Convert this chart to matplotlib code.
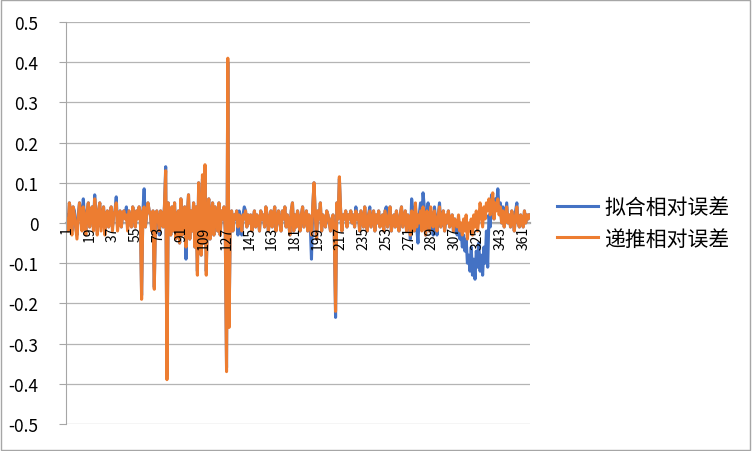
import matplotlib
matplotlib.use("Agg")
import matplotlib.pyplot as plt
from matplotlib.patches import Rectangle
import numpy as np

plt.rcParams['font.family'] = ['Noto Sans CJK SC', 'DejaVu Sans']
plt.rcParams['axes.unicode_minus'] = False

# series labels
fit_label = "拟合相对误差"
rec_label = "递推相对误差"

# 递推相对误差 (orange), days 1..366
rec_err = [
    0.01, -0.02, 0.05, 0.03, -0.03, 0.04, 0.02, -0.01, -0.04, 0.01,
    0.05, 0.02, -0.02, 0.04, 0.01, -0.03, 0.03, 0.05, -0.01, 0.02,
    0.04, -0.02, 0.06, 0.02, -0.03, 0.03, 0.05, -0.02, 0.01, 0.04,
    -0.03, 0.02, 0.03, -0.01, 0.01, 0.04, -0.02, 0.02, 0.03, 0.05,
    -0.02, 0.01, 0.03, -0.01, 0.02, 0.03, 0.01, 0.02, -0.02, 0.03,
    0.01, -0.01, 0.04, 0.02, -0.01, 0.03, 0.01, 0.04, 0.02, -0.19,
    0.03, 0.04, -0.01, 0.02, 0.05, 0.03, 0.02, -0.02, 0.03, -0.165,
    0.02, 0.03, 0.01, -0.02, 0.03, 0.02, -0.01, 0.04, 0.13, -0.39,
    0.05, 0.02, -0.03, 0.04, -0.02, 0.05, -0.04, 0.01, 0.03, -0.05,
    0.06, -0.03, 0.01, 0.04, -0.06, 0.02, 0.07, -0.04, 0.03, -0.02,
    0.05, -0.06, 0.04, -0.13, 0.10, 0.02, -0.08, 0.12, -0.05, 0.145,
    -0.13, 0.03, 0.06, -0.04, 0.02, 0.05, -0.03, 0.04, 0.01, -0.02,
    0.05, -0.03, 0.03, 0.01, 0.04, -0.02, -0.37, 0.41, -0.26, 0.02,
    0.03, -0.02, 0.02, 0.01, 0.03, -0.01, 0.02, 0.01, -0.02, 0.02,
    0.01, 0.03, -0.01, 0.02, 0.00, 0.02, -0.02, 0.01, 0.03, -0.01,
    0.02, 0.01, -0.02, 0.03, 0.01, 0.02, -0.01, 0.04, 0.02, -0.02,
    0.01, 0.03, -0.01, 0.02, 0.04, -0.02, 0.01, 0.03, 0.00, -0.02,
    0.03, 0.01, 0.04, -0.01, 0.02, 0.00, -0.03, 0.03, 0.05, -0.02,
    0.02, -0.01, 0.03, 0.01, -0.02, 0.02, 0.04, -0.01, 0.01, 0.03,
    -0.02, 0.02, 0.00, -0.03, 0.04, 0.10, 0.02, -0.04, 0.03, 0.01,
    0.05, -0.02, 0.02, 0.01, -0.01, 0.03, 0.02, 0.00, -0.02, 0.01,
    0.02, -0.03, -0.22, 0.05, 0.01, 0.115, 0.03, -0.02, 0.02, 0.01,
    0.03, -0.01, 0.02, 0.01, 0.03, 0.00, 0.02, -0.01, 0.03, 0.01,
    0.02, -0.02, 0.03, 0.01, -0.01, 0.04, 0.00, -0.02, 0.02, 0.03,
    -0.01, 0.01, 0.03, -0.02, 0.02, 0.00, 0.03, -0.01, 0.01, 0.02,
    -0.02, 0.03, 0.01, -0.01, 0.02, 0.04, -0.02, 0.01, 0.02, -0.01,
    0.03, 0.00, -0.02, 0.02, 0.04, -0.01, 0.01, 0.03, -0.02, 0.02,
    0.01, -0.03, 0.03, 0.02, -0.02, 0.05, -0.01, 0.02, 0.00, 0.03,
    -0.02, 0.04, 0.01, -0.03, 0.03, 0.02, -0.02, 0.04, 0.01, -0.01,
    0.03, 0.00, -0.02, 0.02, 0.04, -0.01, 0.01, 0.03, -0.02, 0.02,
    0.00, 0.03, -0.01, 0.01, 0.02, -0.02, 0.01, 0.00, -0.01, 0.02,
    -0.02, 0.00, -0.03, 0.01, -0.02, 0.02, -0.04, 0.00, -0.02, 0.01,
    -0.03, 0.02, -0.01, 0.03, -0.02, 0.01, 0.05, 0.02, -0.01, 0.04,
    0.01, 0.05, 0.03, 0.06, 0.02, 0.04, 0.075, 0.01, 0.05, 0.03,
    0.06, 0.02, 0.04, 0.00, 0.03, -0.01, 0.02, 0.04, 0.00, 0.02,
    -0.01, 0.03, 0.01, -0.02, 0.02, 0.04, 0.00, -0.01, 0.02, 0.01,
    -0.01, 0.03, 0.00, 0.02, 0.01, 0.02,
]

# 拟合相对误差 (blue), days 1..366
fit_err = [
    0.02, -0.01, 0.05, 0.03, -0.02, 0.04, 0.03, -0.01, -0.03, 0.02,
    0.05, 0.03, -0.01, 0.06, 0.01, -0.02, 0.03, 0.05, -0.01, 0.03,
    0.04, -0.01, 0.07, 0.02, -0.02, 0.03, 0.05, -0.01, 0.02, 0.04,
    -0.02, 0.02, 0.03, -0.01, 0.02, 0.04, -0.01, 0.02, 0.03, 0.065,
    -0.01, 0.01, 0.03, -0.01, 0.02, 0.03, 0.02, 0.04, -0.01, 0.03,
    0.01, -0.01, 0.04, 0.02, -0.01, 0.03, 0.02, 0.04, 0.02, -0.18,
    0.03, 0.085, -0.01, 0.02, 0.05, 0.03, 0.02, -0.02, 0.03, -0.16,
    0.02, 0.03, 0.01, -0.03, 0.03, 0.02, -0.01, 0.04, 0.14, -0.38,
    0.05, 0.02, -0.03, 0.04, -0.02, 0.05, -0.04, 0.01, 0.03, -0.05,
    0.06, -0.03, 0.01, 0.04, -0.09, 0.02, 0.07, -0.04, 0.03, -0.02,
    0.05, -0.06, 0.04, -0.12, 0.10, 0.02, -0.08, 0.11, -0.05, 0.14,
    -0.12, 0.03, 0.06, -0.04, 0.02, 0.05, -0.03, 0.04, 0.01, -0.02,
    0.05, -0.03, 0.03, 0.01, 0.04, -0.02, -0.36, 0.40, -0.25, 0.02,
    0.03, -0.02, 0.02, 0.01, 0.03, -0.03, 0.03, 0.01, -0.03, 0.02,
    0.04, 0.03, -0.01, 0.02, 0.00, 0.02, -0.02, 0.01, 0.03, -0.01,
    0.02, 0.01, -0.02, 0.03, 0.01, 0.02, -0.01, 0.04, 0.02, -0.02,
    0.01, 0.03, -0.01, 0.02, 0.04, -0.02, 0.01, 0.03, 0.00, -0.02,
    0.03, 0.01, 0.04, -0.01, 0.02, 0.00, -0.03, 0.03, 0.05, -0.02,
    0.02, -0.01, 0.03, 0.01, -0.02, 0.02, 0.04, -0.01, 0.01, 0.03,
    -0.02, 0.02, 0.00, -0.09, 0.04, 0.10, 0.02, -0.04, 0.03, 0.01,
    0.05, -0.02, 0.02, 0.01, -0.01, 0.03, 0.02, 0.00, -0.02, 0.01,
    0.02, -0.03, -0.235, 0.05, 0.01, 0.11, 0.03, -0.02, 0.02, 0.01,
    0.03, -0.01, 0.02, 0.01, 0.03, 0.00, 0.02, -0.01, 0.04, 0.01,
    0.02, -0.02, 0.03, 0.01, -0.01, 0.04, 0.00, -0.02, 0.02, 0.04,
    -0.01, 0.01, 0.03, -0.02, 0.02, 0.00, 0.03, -0.01, 0.01, 0.02,
    -0.02, 0.03, 0.04, -0.01, 0.02, 0.04, -0.02, 0.01, 0.02, -0.01,
    0.03, 0.00, -0.02, 0.02, 0.04, -0.01, 0.01, 0.03, -0.02, 0.02,
    0.01, -0.04, 0.06, 0.03, -0.02, 0.04, -0.01, -0.05, 0.02, 0.05,
    0.00, 0.075, 0.04, -0.03, 0.02, 0.05, -0.02, 0.03, 0.01, -0.03,
    0.04, 0.01, -0.03, 0.02, 0.05, -0.01, 0.02, 0.03, -0.02, 0.01,
    0.00, 0.03, -0.01, 0.01, 0.02, -0.02, 0.01, -0.02, -0.03, 0.01,
    -0.04, -0.02, -0.06, -0.03, -0.07, -0.04, -0.10, -0.08, -0.12, -0.06,
    -0.13, -0.09, -0.14, -0.07, -0.11, -0.05, -0.12, -0.08, -0.13, -0.06,
    -0.10, -0.02, -0.11, 0.02, -0.01, 0.07, 0.04, 0.01, 0.06, 0.04,
    0.085, 0.03, 0.05, 0.00, 0.04, -0.01, 0.02, 0.05, 0.00, 0.02,
    -0.01, 0.03, 0.01, -0.02, 0.03, 0.05, 0.00, -0.01, 0.02, 0.01,
    -0.01, 0.03, 0.00, 0.02, 0.01, 0.02,
]

days = np.arange(1, len(rec_err) + 1)
tick_days = list(range(1, 367, 18))
y_ticks = [-0.5, -0.4, -0.3, -0.2, -0.1, 0, 0.1, 0.2, 0.3, 0.4, 0.5]
y_labels = ["-0.5", "-0.4", "-0.3", "-0.2", "-0.1", "0", "0.1", "0.2", "0.3", "0.4", "0.5"]

fig = plt.figure(figsize=(7.52, 4.52), dpi=100)
ax = fig.add_axes([0.088, 0.060, 0.617, 0.889])

ax.plot(days, fit_err, color='#4472C4', lw=2.2, label=fit_label, zorder=2)
ax.plot(days, rec_err, color='#ED7D31', lw=2.2, label=rec_label, zorder=2.1)

ax.set_xlim(0.5, len(days) + 0.5)
ax.set_ylim(-0.5, 0.5)
ax.set_yticks(y_ticks)
ax.set_yticklabels(y_labels, fontsize=12.5)
ax.set_xticks(tick_days)
ax.set_xticklabels([str(d) for d in tick_days], fontsize=12.5)

ax.grid(axis='y', color='#b4b4b4', lw=0.9, zorder=0)
ax.spines['top'].set_visible(False)
ax.spines['right'].set_visible(False)
ax.spines['left'].set_color('#a6a6a6')
ax.spines['bottom'].set_position(('data', 0))
ax.spines['bottom'].set_color('#a6a6a6')
ax.spines['bottom'].set_linewidth(1.6)
ax.spines['bottom'].set_zorder(1.5)
ax.xaxis.set_zorder(5)
ax.tick_params(axis='y', length=5, color='#a6a6a6', pad=15)
ax.tick_params(axis='x', length=0, pad=2, labelrotation=90)

ax.legend(loc='center left', bbox_to_anchor=(1.017, 0.5), frameon=False,
          fontsize=15, handlelength=2.0, labelspacing=0.45, handletextpad=0.3)

fig.patches.append(Rectangle((0.001, 0.002), 0.997, 0.996, transform=fig.transFigure,
                             fill=False, edgecolor='#a6a6a6', lw=1.0))

fig.savefig("out.png", dpi=100)
